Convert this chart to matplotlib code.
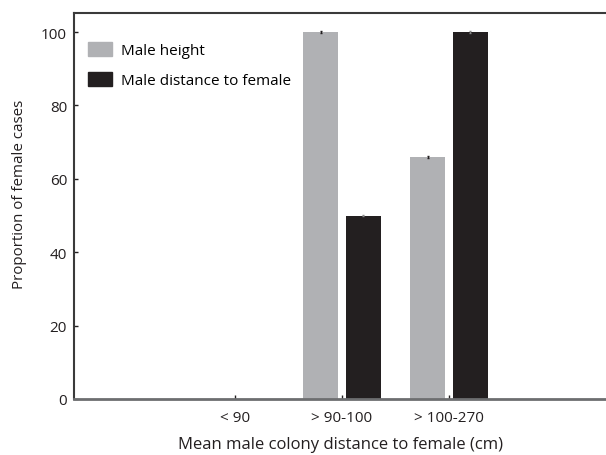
import matplotlib
matplotlib.use("Agg")
import matplotlib.pyplot as plt
import numpy as np
from matplotlib.patches import Patch

plt.rcParams['font.family'] = ['Open Sans', 'DejaVu Sans']

categories = ["< 90", "> 90-100", "> 100-270"]
male_height = [0, 100, 66]
male_distance = [0, 50, 100]
yticks = [0, 20, 40, 60, 80, 100]

gray = "#b0b1b4"
black = "#231f20"

fig = plt.figure(figsize=(6.06, 4.56), dpi=100)
ax = fig.add_axes([74/606, 1-400/456, 1-74/606, (400-14)/456])

x = np.arange(len(categories))
w = 0.33
off = 0.2
hv = np.array(male_height, dtype=float)
dv = np.array(male_distance, dtype=float)
ax.bar(x - off, hv, width=w, color=gray)
ax.bar(x + off, dv, width=w, color=black)
mh = hv > 0
md = dv > 0
ax.errorbar((x - off)[mh], hv[mh], yerr=0.2, fmt='none', ecolor=black, elinewidth=0.8, capsize=1)
ax.errorbar((x + off)[md], dv[md], yerr=0.2, fmt='none', ecolor="#888888", elinewidth=0.8, capsize=1)

ax.set_xlim(-1.505, 3.467)
ax.set_ylim(0, 105.2)
ax.set_xticks(x)
ax.set_xticklabels(categories)
ax.set_yticks(yticks)
ax.tick_params(direction='in', length=3, width=1, labelsize=11, colors='#231f20', pad=5)
ax.tick_params(axis='x', pad=8)

for s in ['top', 'left']:
    ax.spines[s].set_color('#3a3a3a')
    ax.spines[s].set_linewidth(1.5)
ax.spines['bottom'].set_color('#6d6e70')
ax.spines['bottom'].set_linewidth(2)
ax.spines['right'].set_visible(False)

ax.set_xlabel("Mean male colony distance to female (cm)", fontsize=12, color='#231f20')
ax.xaxis.set_label_coords(0.5, -0.097)
ax.set_ylabel("Proportion of female cases", fontsize=10.9, color='#231f20')
ax.yaxis.set_label_coords(-0.089, 0.532)

handles = [Patch(color=gray, label="Male height"), Patch(color=black, label="Male distance to female")]
ax.legend(handles=handles, loc='upper left', bbox_to_anchor=(0.0, 0.96), frameon=False,
          fontsize=11, handlelength=1.6, handleheight=1.0, labelspacing=0.9, handletextpad=0.6)

fig.savefig("out.png", dpi=100)
